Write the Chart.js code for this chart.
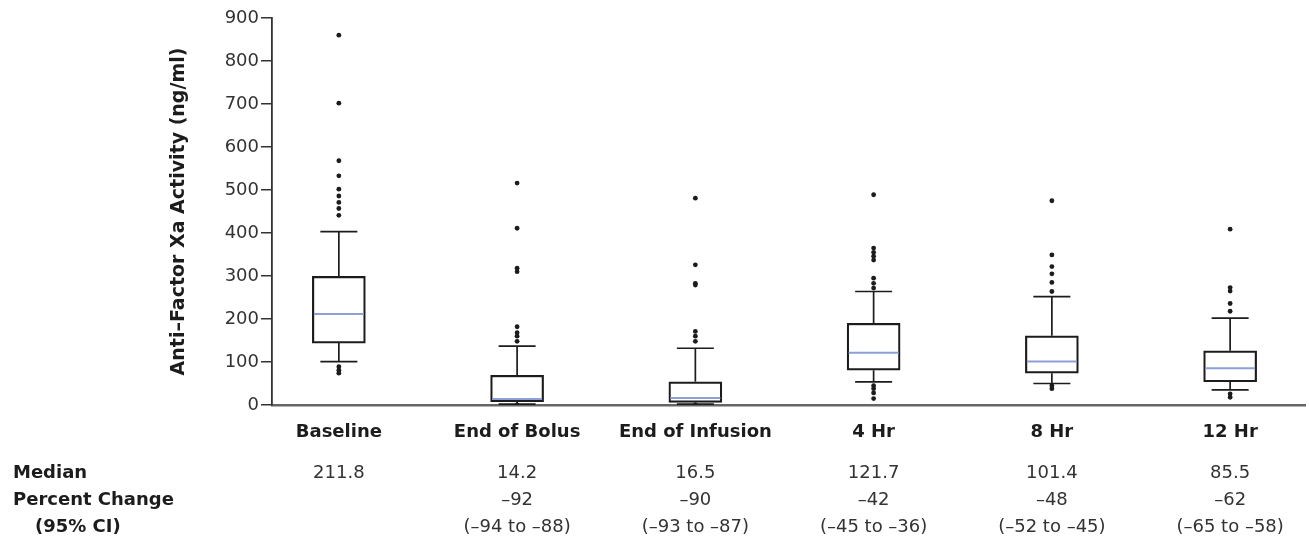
<!DOCTYPE html>
<html>
<head>
<meta charset="utf-8">
<title>Anti-Factor Xa Activity</title>
<script src="https://cdn.jsdelivr.net/npm/chart.js@4.4.1/dist/chart.umd.min.js"></script>
<style>
  html, body { margin: 0; padding: 0; background: #fff; }
  #wrap { position: relative; width: 1309px; height: 546px; }
</style>
</head>
<body>
<div id="wrap"><canvas id="chart"></canvas></div>
<script>
// time points
const categories = ['Baseline', 'End of Bolus', 'End of Infusion', '4 Hr', '8 Hr', '12 Hr'];

// box plot summary (ng/ml)
const q1 = [144, 8, 6, 81, 74, 54];
const q3 = [299, 69, 54, 190, 161, 126];
const boxMedians = [211.8, 14.2, 16.5, 121.7, 101.4, 85.5];
const whiskerLow = [101, 2, 2, 54, 50, 35];
const whiskerHigh = [403, 137, 132, 264, 252, 202];

const outliers = [
    [860, 702, 568, 533, 502, 486, 471, 457, 441, 89, 81, 74],
    [516, 411, 318, 310, 182, 168, 160, 148, 0],
    [481, 326, 283, 279, 171, 160, 148, 0],
    [489, 365, 355, 346, 337, 295, 283, 272, 45, 38, 28, 15],
    [475, 349, 322, 305, 285, 264, 45, 38],
    [409, 273, 265, 236, 218, 26, 18]
];

// table under the chart
const medianText = ['211.8', '14.2', '16.5', '121.7', '101.4', '85.5'];
const pctChange = ['', '\u201392', '\u201390', '\u201342', '\u201348', '\u201362'];
const pctCI = ['', '(\u201394 to \u201388)', '(\u201393 to \u201387)', '(\u201345 to \u201336)', '(\u201352 to \u201345)', '(\u201365 to \u201358)'];

const yTicks = [0, 100, 200, 300, 400, 500, 600, 700, 800, 900];

const FONT = "'DejaVu Sans', sans-serif";
const INK = '#1c1c1c';

const boxData = categories.map((c, i) => ({ x: i, y: [q1[i], q3[i]] }));
const outlierData = [];
outliers.forEach((list, i) => list.forEach(v => outlierData.push({ x: i, y: v })));

// whiskers, caps and median lines
const boxPlotLines = {
    id: 'boxPlotLines',
    beforeDatasetsDraw(chart) {
        const { ctx, scales: { x, y } } = chart;
        const cap = 37;
        ctx.save();
        ctx.strokeStyle = INK;
        ctx.lineWidth = 1.7;
        categories.forEach((c, i) => {
            const px = x.getPixelForValue(i);
            ctx.beginPath();
            ctx.moveTo(px, y.getPixelForValue(q3[i]));
            ctx.lineTo(px, y.getPixelForValue(whiskerHigh[i]));
            ctx.moveTo(px, y.getPixelForValue(q1[i]));
            ctx.lineTo(px, y.getPixelForValue(whiskerLow[i]));
            ctx.moveTo(px - cap / 2, y.getPixelForValue(whiskerHigh[i]));
            ctx.lineTo(px + cap / 2, y.getPixelForValue(whiskerHigh[i]));
            ctx.moveTo(px - cap / 2, y.getPixelForValue(whiskerLow[i]));
            ctx.lineTo(px + cap / 2, y.getPixelForValue(whiskerLow[i]));
            ctx.stroke();
        });
        ctx.restore();
    },
    afterDatasetsDraw(chart) {
        const { ctx, scales: { x, y } } = chart;
        const half = 25;
        ctx.save();
        ctx.strokeStyle = 'rgb(140, 160, 215)';
        ctx.lineWidth = 2;
        categories.forEach((c, i) => {
            const px = x.getPixelForValue(i);
            const py = y.getPixelForValue(boxMedians[i]);
            ctx.beginPath();
            ctx.moveTo(px - half, py);
            ctx.lineTo(px + half, py);
            ctx.stroke();
        });
        ctx.restore();
    }
};

// Median / percent change rows
const summaryTable = {
    id: 'summaryTable',
    afterDraw(chart) {
        const { ctx, chartArea, scales: { x } } = chart;
        const rows = [chartArea.bottom + 73, chartArea.bottom + 100, chartArea.bottom + 127];
        ctx.save();
        ctx.textBaseline = 'alphabetic';
        ctx.fillStyle = INK;
        ctx.font = 'bold 18px ' + FONT;
        ctx.textAlign = 'left';
        ctx.fillText('Median', 13, rows[0]);
        ctx.fillText('Percent Change', 13, rows[1]);
        ctx.fillText('(95% CI)', 35, rows[2]);

        ctx.font = '18px ' + FONT;
        ctx.fillStyle = '#333';
        ctx.textAlign = 'center';
        categories.forEach((c, i) => {
            const px = x.getPixelForValue(i);
            ctx.fillText(medianText[i], px, rows[0]);
            ctx.fillText(pctChange[i], px, rows[1]);
            ctx.fillText(pctCI[i], px, rows[2]);
        });
        ctx.restore();
    }
};

new Chart(document.getElementById('chart'), {
    data: {
        datasets: [
            {
                type: 'scatter',
                data: outlierData,
                backgroundColor: INK,
                borderWidth: 0,
                pointRadius: 2.4
            },
            {
                type: 'bar',
                data: boxData,
                backgroundColor: '#fff',
                borderColor: INK,
                borderWidth: 2.2,
                borderSkipped: false,
                barThickness: 53,
                grouped: false
            }
        ]
    },
    options: {
        responsive: true,
        maintainAspectRatio: false,
        animation: false,
        layout: { padding: { top: 18, right: 0, bottom: 0, left: 0 } },
        plugins: {
            legend: { display: false },
            tooltip: { enabled: false }
        },
        scales: {
            x: {
                type: 'linear',
                offset: false,
                min: -0.375,
                max: 5.42,
                afterBuildTicks: s => { s.ticks = categories.map((c, i) => ({ value: i })); },
                afterFit: s => { s.height = 141; },
                grid: { display: false },
                border: { color: '#666', width: 2.5 },
                ticks: {
                    padding: 9,
                    color: INK,
                    font: { family: FONT, size: 18, weight: 'bold' },
                    callback: v => categories[v]
                }
            },
            y: {
                min: 0,
                max: 900,
                afterBuildTicks: s => { s.ticks = yTicks.map(v => ({ value: v })); },
                afterFit: s => { s.width = 272; },
                grid: { drawOnChartArea: false, drawTicks: true, tickLength: 11, color: '#333', lineWidth: 1.5 },
                border: { color: '#333', width: 1.8 },
                ticks: {
                    padding: 2,
                    color: '#333',
                    font: { family: FONT, size: 18 }
                },
                title: {
                    display: true,
                    text: 'Anti\u2013Factor Xa Activity (ng/ml)',
                    color: INK,
                    font: { family: FONT, size: 19, weight: 'bold' },
                    padding: { top: 168, bottom: 0 }
                }
            }
        }
    },
    plugins: [boxPlotLines, summaryTable]
});
</script>
</body>
</html>
